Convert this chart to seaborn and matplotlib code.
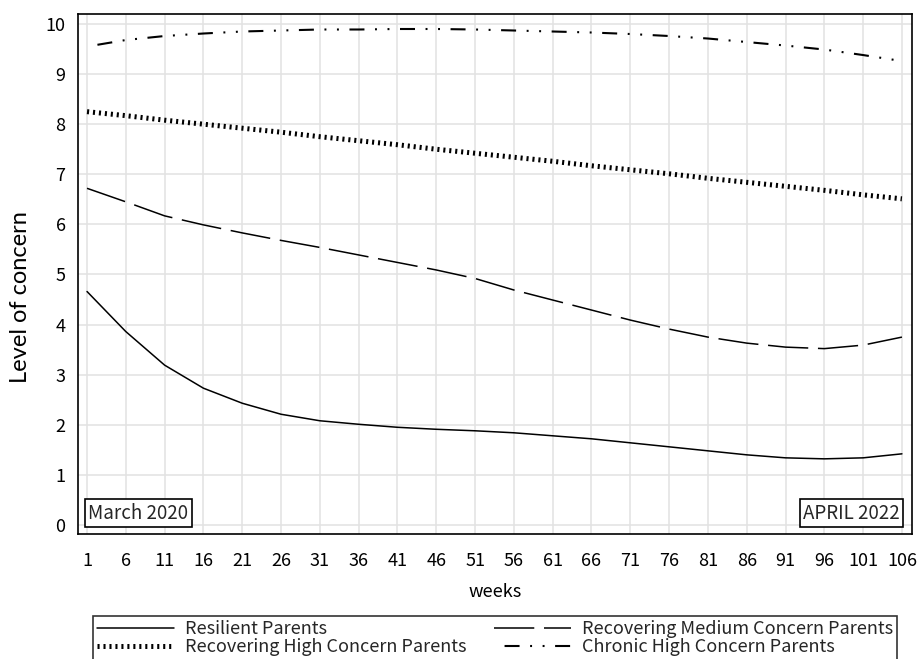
import numpy as np
import pandas as pd
import matplotlib
matplotlib.use("Agg")
import matplotlib.pyplot as plt
import seaborn as sns

# =============== DATA ===============
weeks = [1, 6, 11, 16, 21, 26, 31, 36, 41, 46, 51, 56, 61, 66, 71, 76, 81, 86, 91, 96, 101, 106]

resilient = [4.66, 3.86, 3.19, 2.73, 2.43, 2.21, 2.08, 2.01, 1.95, 1.91, 1.88,
             1.84, 1.78, 1.72, 1.64, 1.56, 1.48, 1.40, 1.34, 1.32, 1.34, 1.42]
recovering_high = [8.25, 8.17, 8.08, 8.00, 7.92, 7.84, 7.75, 7.67, 7.59, 7.50, 7.42,
                   7.34, 7.26, 7.17, 7.09, 7.01, 6.92, 6.84, 6.76, 6.68, 6.59, 6.51]
recovering_medium = [6.72, 6.45, 6.17, 5.99, 5.83, 5.68, 5.54, 5.39, 5.24, 5.09, 4.92,
                     4.69, 4.49, 4.29, 4.09, 3.91, 3.75, 3.63, 3.55, 3.52, 3.59, 3.75]
chronic_high = [9.55, 9.68, 9.76, 9.81, 9.85, 9.87, 9.89, 9.89, 9.90, 9.90, 9.89,
                9.87, 9.85, 9.83, 9.80, 9.76, 9.71, 9.64, 9.57, 9.49, 9.38, 9.26]

group_names = ["Resilient Parents", "Recovering High Concern Parents",
               "Recovering Medium Concern Parents", "Chronic High Concern Parents"]
y_ticks = list(range(0, 11))

# =============== STYLE ===============
sns.set_theme(style="white")
plt.rcParams["font.family"] = ["Noto Sans CJK JP", "DejaVu Sans"]
plt.rcParams["lines.scale_dashes"] = False

# line styles per group (dash lengths in points)
styles = {
    "Resilient Parents": dict(ls="-", lw=1.1),
    "Recovering High Concern Parents": dict(ls=(0, (1.5, 2.8)), lw=3.6),
    "Recovering Medium Concern Parents": dict(ls=(0, (29, 7)), lw=1.1),
    "Chronic High Concern Parents": dict(ls=(28.8, (10.8, 7.6, 1.4, 7.6, 1.4, 7.6)), lw=1.5),
}

df = pd.DataFrame({
    "weeks": weeks * 4,
    "concern": resilient + recovering_high + recovering_medium + chronic_high,
    "group": np.repeat(group_names, len(weeks)),
})

# =============== PLOT ===============
fig = plt.figure(figsize=(9.19, 6.59), dpi=100)
ax = fig.add_axes([0.0849, 0.1897, 0.9075, 0.7891])

handles = []
for name in group_names:
    sub = df[df["group"] == name]
    sns.lineplot(data=sub, x="weeks", y="concern", color="black", ax=ax, label=name)
    line = ax.lines[-1]
    line.set_linestyle(styles[name]["ls"])
    line.set_linewidth(styles[name]["lw"])
    line.set_dash_capstyle("butt")
    handles.append(line)

ax.set_xlim(-0.16, 107.3)
ax.set_ylim(-0.18, 10.2)
ax.set_xticks(weeks)
ax.set_yticks(y_ticks)
ax.grid(True, color="#e2e2e2", linewidth=1.1)
ax.set_axisbelow(True)
for sp in ax.spines.values():
    sp.set_color("black")
    sp.set_linewidth(1.2)
ax.tick_params(axis="both", direction="out", length=6, width=1, color="black",
               labelsize=13, labelcolor="black")
ax.tick_params(axis="x", pad=7)
ax.tick_params(axis="y", pad=3)

ax.set_xlabel("weeks", fontsize=13, color="black")
ax.xaxis.set_label_coords(0.5, -0.095)
ax.set_ylabel("Level of concern", fontsize=17, color="black", family=["Lato", "DejaVu Sans"])
ax.yaxis.set_label_coords(-0.056, 0.455)

box = dict(boxstyle="square,pad=0.18", facecolor="white", edgecolor="black", linewidth=1.2)
ax.text(0.0125, 0.02, "March 2020", transform=ax.transAxes, fontsize=13.5,
        ha="left", va="bottom", bbox=box)
ax.text(0.9855, 0.02, "APRIL 2022", transform=ax.transAxes, fontsize=13.5,
        ha="right", va="bottom", bbox=box)

# legend sits at the bottom edge, as in the reference
ax.get_legend().remove()
leg = fig.legend(handles=handles, labels=group_names, ncol=2, loc="upper left",
                 bbox_to_anchor=(93 / 919, 1 - 617 / 659, (897 - 93) / 919, 0.001),
                 mode="expand", fontsize=13, frameon=True, fancybox=False,
                 edgecolor="black", handlelength=4.3, handletextpad=0.6,
                 labelspacing=0.0, borderpad=0.2, borderaxespad=0)
leg.get_frame().set_linewidth(1.2)

fig.savefig("out.png", dpi=100)
